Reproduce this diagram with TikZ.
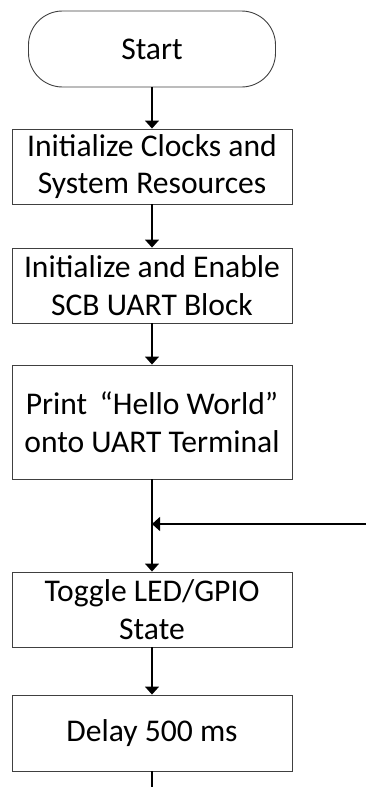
\documentclass[tikz,border=0pt]{standalone}
\usepackage{fontspec}
\setmainfont{Carlito}
\usetikzlibrary{arrows.meta}
\begin{document}
\begin{tikzpicture}[x=1pt,y=-1pt,
  stepbox/.style={draw=black!75, line width=0.9pt, minimum width=280pt, inner sep=0pt, align=center, font=\fontsize{31.6}{37.5}\selectfont},
  termbox/.style={draw=black!75, line width=0.9pt, rounded corners=34pt, minimum width=247pt, minimum height=76pt, inner sep=0pt, font=\fontsize{31.6}{37.5}\selectfont},
  flow/.style={line width=1.4pt, -{Triangle[width=14pt,length=8pt]}},
  plain/.style={line width=1.4pt}]
\useasboundingbox (0,0) rectangle (366,787);
\node[termbox] (start) at (152,49) {Start};
\node[stepbox, minimum height=75pt] (init) at (152,166.5) {Initialize Clocks and\\System Resources};
\node[stepbox, minimum height=75pt] (uart) at (152,285.5) {Initialize and Enable\\SCB UART Block};
\node[stepbox, minimum height=114pt] (print) at (152,422) {Print \,“Hello World”\\onto UART Terminal};
\node[stepbox, minimum height=75pt] (toggle) at (152,609.5) {Toggle LED/GPIO\\State};
\node[stepbox, minimum height=76pt] (delay) at (152,733) {Delay 500 ms};
\coordinate (merge) at (152,524);
\coordinate (loopin) at (366,524);
\coordinate (tail) at (152,787);
\draw[flow] (start) -- (init);
\draw[flow] (init) -- (uart);
\draw[flow] (uart) -- (print);
\draw[plain] (print) -- (merge);
\draw[flow] (merge) -- (toggle);
\draw[flow] (loopin) -- (merge);
\draw[flow] (toggle) -- (delay);
\draw[plain] (delay) -- (tail);
\end{tikzpicture}
\end{document}
